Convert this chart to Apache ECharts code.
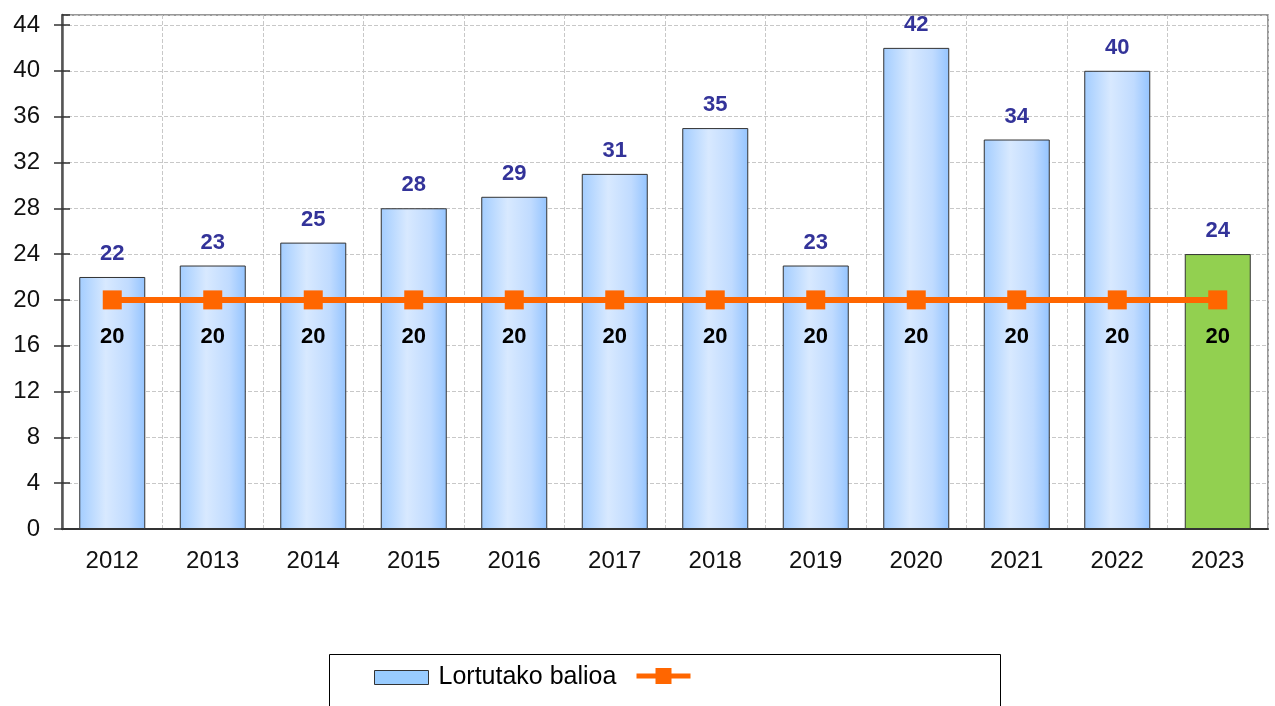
<!DOCTYPE html>
<html>
<head>
<meta charset="utf-8">
<script src="https://cdn.jsdelivr.net/npm/echarts@6/dist/echarts.min.js"></script>
<style>
  html, body { margin: 0; padding: 0; background: #fff; }
  #chart { width: 1275px; height: 706px; }
</style>
</head>
<body>
<div id="chart"></div>
<script>
// datuak
var years = ['2012', '2013', '2014', '2015', '2016', '2017', '2018', '2019', '2020', '2021', '2022', '2023'];
var lortutakoBalioa = [22, 23, 25, 28, 29, 31, 35, 23, 42, 34, 40, 24];
var helburua = [20, 20, 20, 20, 20, 20, 20, 20, 20, 20, 20, 20];

var chart = echarts.init(document.getElementById('chart'));
var font = 'Liberation Sans, Arial, sans-serif';

var blueGradient = new echarts.graphic.LinearGradient(0, 0, 1, 0, [
  { offset: 0, color: '#a3cdff' },
  { offset: 0.4, color: '#d8e9ff' },
  { offset: 0.75, color: '#c0dbff' },
  { offset: 1, color: '#94c4ff' }
]);

// azken urtea berdez
var barData = lortutakoBalioa.map(function (v, i) {
  if (i === lortutakoBalioa.length - 1) {
    return { value: v, itemStyle: { color: '#92d050' } };
  }
  return v;
});

var option = {
  animation: false,
  textStyle: { fontFamily: font },
  grid: {
    left: 62, right: 7, top: 15, bottom: 177,
    show: true, borderColor: '#777', borderWidth: 1.5
  },
  legend: [{
    left: 369, top: 660,
    itemWidth: 54, itemHeight: 14,
    icon: 'rect',
    itemStyle: { color: '#99ccff', borderColor: '#333', borderWidth: 1 },
    textStyle: { fontSize: 25, color: '#000', fontFamily: font, padding: [0, 0, 0, 5] },
    data: ['Lortutako balioa']
  }, {
    left: 629, top: 659,
    itemWidth: 54, itemHeight: 20,
    lineStyle: { width: 5, color: '#ff6600' },
    textStyle: { fontSize: 24 },
    data: [' ']
  }],
  graphic: [{
    type: 'rect',
    shape: { x: 329.5, y: 654.5, width: 671, height: 60 },
    style: { fill: 'none', stroke: '#000', lineWidth: 1 },
    z: -1
  }],
  xAxis: {
    type: 'category',
    data: years,
    axisLine: { lineStyle: { color: '#333', width: 2 } },
    axisTick: { length: 9, lineStyle: { color: '#333', width: 1.5 } },
    axisLabel: { fontSize: 24, color: '#111', margin: 20 },
    splitLine: { show: true, lineStyle: { color: '#c8c8c8', type: 'dashed', width: 1 } }
  },
  yAxis: [{
    type: 'value',
    min: 0, max: 44.87, interval: 4,
    axisLine: { show: true, lineStyle: { color: '#555', width: 2.5 } },
    axisTick: { show: true, length: 8, lineStyle: { color: '#333', width: 1.5 } },
    axisLabel: { fontSize: 24, color: '#111', margin: 22, showMaxLabel: false },
    splitLine: { lineStyle: { color: '#c8c8c8', type: 'dashed', width: 1 } }
  }, {
    // barruko marratxoak
    type: 'value', position: 'left',
    min: 0, max: 44.87, interval: 4,
    axisLine: { show: false },
    axisTick: { show: true, inside: true, length: 8, lineStyle: { color: '#333', width: 1.5 } },
    axisLabel: { show: false },
    splitLine: { show: false }
  }],
  series: [{
    name: 'Lortutako balioa',
    type: 'bar',
    data: barData,
    barWidth: 66,
    itemStyle: { color: blueGradient, borderColor: '#333', borderWidth: 1 },
    label: {
      show: true, position: 'top', distance: 12,
      fontSize: 22, fontWeight: 'bold', color: '#333399'
    }
  }, {
    name: ' ',
    type: 'line',
    data: helburua,
    symbol: 'rect',
    symbolSize: 19,
    lineStyle: { color: '#ff6600', width: 6 },
    itemStyle: { color: '#ff6600' },
    label: {
      show: true, position: 'bottom', distance: 17,
      fontSize: 22, fontWeight: 'bold', color: '#000'
    },
    z: 3
  }]
};

chart.setOption(option);
</script>
</body>
</html>
